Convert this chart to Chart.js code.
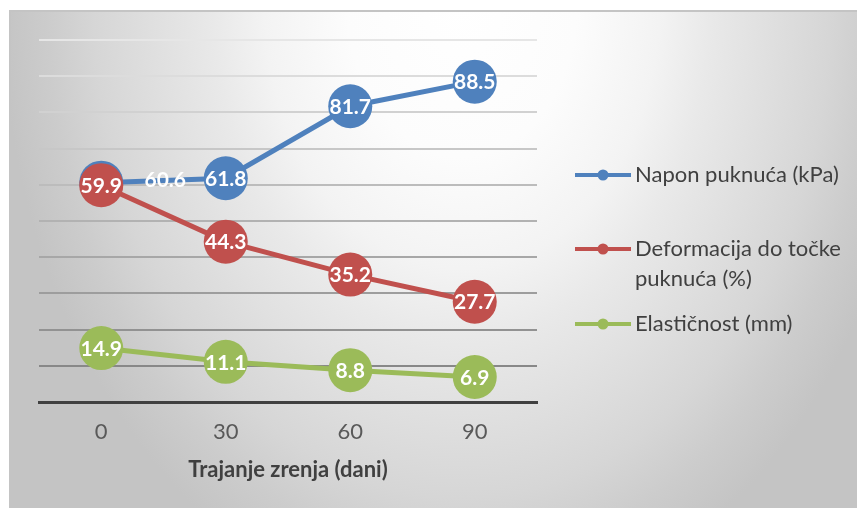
<!DOCTYPE html>
<html><head><meta charset="utf-8">
<script src="https://cdn.jsdelivr.net/npm/chart.js@4"></script>
<style>
html,body{margin:0;padding:0;background:#fff;width:857px;height:508px;overflow:hidden;}
#frame{position:absolute;left:9px;top:10px;width:848px;height:498px;border-top:2px solid #c4c4c4;border-left:2px solid #c4c4c4;box-sizing:border-box;
background:radial-gradient(460px 620px at 451px -10px,#ffffff 0%,#fcfcfc 25%,#f3f3f3 43%,#e9e9e9 54%,#e1e1e1 65%,#d6d6d6 80%,#cccccc 90%,#c4c4c4 100%);}
#c{position:absolute;left:0;top:0;}
</style></head>
<body><div id="frame"></div><canvas id="c" width="857" height="508"></canvas>
<script>
const categories = ['0', '30', '60', '90'];
const naponValues = [60.6, 61.8, 81.7, 88.5];
const deformacijaValues = [59.9, 44.3, 35.2, 27.7];
const elasticnostValues = [14.9, 11.1, 8.8, 6.9];
const seriesNames = ['Napon puknuća (kPa)', ['Deformacija do točke', 'puknuća (%)'], 'Elastičnost (mm)'];
const xAxisTitle = 'Trajanje zrenja (dani)';
const yMin = 0, yMax = 100, yStep = 10;

const colors = ['#4f81bd', '#c0504d', '#9bbb59'];
const FONT = 'Lato, "Open Sans", sans-serif';

function mkDataset(label, data, color, order) {
  return {
    label: label, data: data, borderColor: color, backgroundColor: color,
    borderWidth: 5, pointRadius: 22, pointHoverRadius: 22, pointBorderWidth: 0,
    pointBackgroundColor: color, tension: 0, order: order, clip: false
  };
}

const dataLabels = {
  id: 'dataLabels',
  afterDatasetsDraw(chart) {
    const ctx = chart.ctx;
    ctx.save();
    ctx.font = 'bold 21px ' + FONT;
    ctx.fillStyle = '#ffffff';
    ctx.textAlign = 'center';
    ctx.textBaseline = 'middle';
    chart.data.datasets.forEach((ds, di) => {
      const meta = chart.getDatasetMeta(di);
      meta.data.forEach((pt, i) => {
        let x = pt.x, y = pt.y;
        if (di === 0 && i === 0) { x += 64; y -= 3; }
        ctx.fillText(ds.data[i].toFixed(1), x, y + 1);
      });
    });
    ctx.restore();
  }
};

const customLegend = {
  id: 'customLegend',
  afterDraw(chart) {
    const ctx = chart.ctx;
    const ys = [175, 249, 324];
    ctx.save();
    ctx.font = '22px ' + FONT;
    ctx.textBaseline = 'middle';
    ctx.textAlign = 'left';
    chart.data.datasets.forEach((ds, di) => {
      const y = ys[di];
      ctx.strokeStyle = ds.borderColor;
      ctx.lineWidth = 4;
      ctx.beginPath(); ctx.moveTo(575, y); ctx.lineTo(631, y); ctx.stroke();
      ctx.fillStyle = ds.borderColor;
      ctx.beginPath(); ctx.arc(603, y, 5.5, 0, Math.PI * 2); ctx.fill();
      ctx.fillStyle = '#404040';
      const lines = Array.isArray(ds.label) ? ds.label : [ds.label];
      lines.forEach((t, li) => ctx.fillText(t, 635, y + li * 30));
    });
    ctx.restore();
  }
};

new Chart(document.getElementById('c'), {
  type: 'line',
  data: {
    labels: categories,
    datasets: [
      mkDataset(seriesNames[0], naponValues, colors[0], 3),
      mkDataset(seriesNames[1], deformacijaValues, colors[1], 2),
      mkDataset(seriesNames[2], elasticnostValues, colors[2], 1)
    ]
  },
  options: {
    responsive: false,
    animation: false,
    events: [],
    layout: { padding: { left: 39, right: 320, top: 40, bottom: 25 } },
    plugins: { legend: { display: false }, tooltip: { enabled: false } },
    scales: {
      x: {
        offset: true,
        afterFit: (scale) => { scale.height = 81; },
        grid: { display: false, drawTicks: false },
        border: { display: true, color: '#404040', width: 3 },
        ticks: { color: '#595959', font: { family: FONT, size: 22 }, padding: 17 },
        title: { display: true, text: xAxisTitle, color: '#404040', font: { family: FONT, size: 22, weight: 'bold' }, padding: { top: 0, bottom: 0 } }
      },
      y: {
        min: yMin, max: yMax,
        ticks: { display: false, stepSize: yStep },
        border: { display: false },
        grid: {
          drawTicks: false, lineWidth: 2,
          color: (c) => {
            const v = c.tick.value;
            if (v <= 0) return 'rgba(0,0,0,0)';
            const g = Math.round(0x88 + (v - 10) / 90 * (0xe6 - 0x88));
            return 'rgb(' + g + ',' + g + ',' + g + ')';
          }
        }
      }
    }
  },
  plugins: [dataLabels, customLegend]
});
</script>
</body></html>
